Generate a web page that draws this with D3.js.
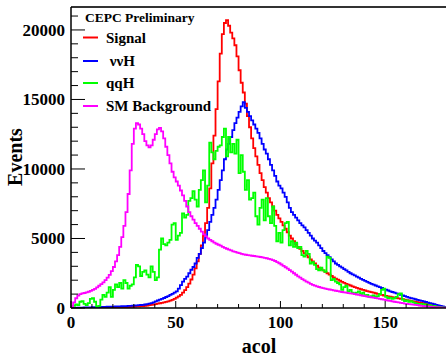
<!DOCTYPE html>
<html>
<head>
<meta charset="utf-8">
<script src="https://cdn.jsdelivr.net/npm/d3@7"></script>
<style>
  body { margin: 0; background: #fff; }
  text { font-family: "Liberation Serif", "DejaVu Serif", serif; font-weight: bold; }
</style>
</head>
<body>
<div id="chart"></div>
<script>
"use strict";

// 1-unit bins of acol from 0 to 180
const signal = [
    0, 0, 0, 0, 0, 0, 0, 0, 0, 0, 0, 0, 0, 0, 0, 0, 5, 5, 10, 10,
    15, 20, 25, 30, 40, 50, 60, 70, 80, 90, 100, 110, 120, 130, 140, 160, 180, 200, 220, 250,
    280, 310, 340, 370, 400, 440, 480, 530, 590, 660, 740, 830, 950, 1100, 1280, 1500, 1750, 2050, 2400, 2850,
    3350, 3900, 4500, 5200, 6100, 7200, 8600, 10400, 12400, 14300, 16300, 18300, 19700, 20500, 20700, 20300, 19800, 19400, 18900, 18100,
    17100, 16200, 15500, 14700, 13800, 13000, 12200, 11500, 10900, 10300, 9700, 9200, 8700, 8300, 7900, 7600, 7300, 7000, 6700, 6450,
    6200, 5950, 5700, 5450, 5200, 5000, 4800, 4600, 4400, 4250, 4100, 3950, 3800, 3650, 3500, 3350, 3200, 3050, 2900, 2800,
    2700, 2600, 2500, 2400, 2300, 2200, 2120, 2040, 1960, 1880, 1810, 1740, 1680, 1620, 1560, 1500, 1450, 1400, 1350, 1300,
    1260, 1220, 1180, 1140, 1100, 1060, 1020, 980, 940, 900, 870, 840, 810, 780, 750, 720, 690, 660, 630, 600,
    570, 540, 510, 480, 450, 420, 390, 360, 330, 300, 270, 240, 210, 180, 150, 120, 90, 60, 40, 20
];

const nunuH = [
    0, 10, 15, 20, 25, 30, 35, 40, 45, 50, 55, 60, 65, 70, 75, 80, 85, 90, 95, 100,
    105, 110, 115, 120, 125, 130, 140, 150, 160, 170, 180, 190, 200, 215, 230, 250, 280, 310, 350, 400,
    470, 540, 600, 660, 720, 790, 860, 940, 1020, 1110, 1200, 1400, 1650, 1900, 2100, 2250, 2500, 2750, 2950, 3200,
    3600, 3900, 4300, 4700, 5100, 5600, 6200, 6700, 7200, 7800, 8500, 9200, 9900, 10700, 11400, 11800, 12300, 12800, 13300, 13700,
    14100, 14500, 14800, 14400, 14100, 13800, 13500, 13200, 12900, 12600, 12200, 11800, 11400, 11100, 10700, 10300, 9900, 9500, 9100, 8800,
    8600, 8300, 8000, 7600, 7200, 6900, 6700, 6500, 6300, 6100, 5950, 5800, 5600, 5400, 5200, 5000, 4850, 4700, 4500, 4300,
    4100, 3950, 3800, 3650, 3500, 3350, 3200, 3100, 3000, 2900, 2800, 2700, 2600, 2500, 2420, 2340, 2260, 2180, 2100, 2020,
    1950, 1880, 1810, 1740, 1680, 1620, 1560, 1500, 1440, 1380, 1320, 1260, 1200, 1150, 1100, 1050, 1000, 950, 900, 850,
    800, 750, 710, 670, 630, 590, 550, 510, 470, 430, 390, 350, 310, 270, 230, 190, 150, 110, 70, 40
];

const qqH = [
    100, 150, 250, 200, 450, 500, 300, 200, 350, 650, 700, 450, 100, 150, 600, 950, 800, 1100, 1500, 800,
    1300, 1700, 1500, 1800, 1400, 2000, 1800, 1400, 1600, 1700, 2200, 3100, 3000, 2300, 2600, 2700, 2400, 2200, 3000, 2600,
    2000, 2200, 4200, 5000, 4600, 4500, 4700, 4900, 6000, 6100, 4900, 5200, 5400, 6800, 6500, 6700, 7700, 7900, 8400, 7800,
    7300, 8500, 9200, 9900, 7600, 8800, 11900, 11200, 10700, 11300, 11600, 11700, 12300, 12900, 10900, 12300, 11200, 11800, 11100, 12100,
    9700, 11000, 9800, 8500, 9200, 7800, 7900, 8300, 6600, 6000, 7200, 7800, 6300, 7900, 6600, 6100, 7300, 5900, 4800, 5400,
    4700, 5600, 6100, 6200, 4500, 4800, 4400, 4700, 4300, 4400, 3800, 3700, 4100, 3900, 3200, 3300, 3100, 2800, 2700, 2900,
    2700, 2600, 3700, 3600, 2000, 2100, 1900, 1800, 1700, 1300, 1500, 1600, 1200, 1300, 1100, 1050, 1100, 1200, 1000, 1100,
    900, 950, 800, 850, 900, 800, 850, 1000, 1300, 1400, 800, 700, 750, 650, 700, 800, 1000, 1050, 600, 500,
    550, 450, 500, 400, 350, 300, 250, 300, 200, 250, 150, 200, 100, 150, 100, 80, 60, 50, 30, 20
];

const smBackground = [
    100, 400, 700, 900, 1000, 1050, 1080, 1120, 1170, 1230, 1300, 1380, 1480, 1600, 1720, 1850, 2000, 2180, 2380, 2650,
    2950, 3350, 3800, 4400, 5100, 5900, 6900, 8200, 9900, 11800, 12900, 13300, 13200, 12900, 12500, 12000, 11700, 11550, 11700, 12100,
    12500, 12850, 12950, 12700, 12200, 11600, 11000, 10400, 9800, 9400, 9100, 8800, 8450, 8100, 7700, 7300, 6900, 6600, 6350, 6100,
    5900, 5700, 5500, 5300, 5150, 5000, 4900, 4800, 4700, 4620, 4550, 4480, 4400, 4330, 4260, 4200, 4140, 4080, 4030, 3980,
    3940, 3900, 3860, 3830, 3800, 3780, 3760, 3740, 3720, 3700, 3670, 3640, 3610, 3580, 3540, 3500, 3440, 3380, 3300, 3220,
    3130, 3030, 2930, 2830, 2720, 2610, 2500, 2390, 2280, 2180, 2080, 1990, 1900, 1820, 1740, 1670, 1610, 1560, 1510, 1470,
    1430, 1390, 1360, 1330, 1300, 1270, 1240, 1210, 1180, 1150, 1120, 1100, 1070, 1050, 1030, 1000, 970, 940, 910, 880,
    850, 820, 800, 770, 740, 710, 690, 660, 630, 600, 570, 540, 510, 480, 450, 420, 400, 370, 350, 320,
    300, 280, 260, 240, 220, 200, 180, 160, 140, 125, 110, 95, 80, 70, 60, 50, 40, 30, 20, 10
];

const xTicks = [0, 50, 100, 150];
const yTicks = [0, 5000, 10000, 15000, 20000];

const legendEntries = [
    { label: "Signal", color: "#ff0000" },
    { label: " \u03bd\u03bdH", color: "#0000ff" },
    { label: "qqH", color: "#00ff00" },
    { label: "SM Background", color: "#ff00ff" }
];

const series = [
    { values: signal, color: "#ff0000" },
    { values: nunuH, color: "#0000ff" },
    { values: qqH, color: "#00ff00" },
    { values: smBackground, color: "#ff00ff" }
];

const W = 446, H = 356;
const margin = { top: 7, left: 71, bottom: 48 };
const plotRight = 448;

const svg = d3.select("#chart").append("svg")
    .attr("width", W)
    .attr("height", H);

const x = d3.scaleLinear().domain([0, 180]).range([margin.left, plotRight]);
const y = d3.scaleLinear().domain([0, 21650]).range([H - margin.bottom, margin.top]);

svg.append("clipPath").attr("id", "frame")
    .append("rect")
    .attr("x", margin.left).attr("y", margin.top)
    .attr("width", plotRight - margin.left)
    .attr("height", y(0) - margin.top);

// histograms, outline starts from the baseline like ROOT "hist"
const histLine = d3.line()
    .x(d => x(d[0]))
    .y(d => y(d[1]))
    .curve(d3.curveStepAfter);

const plot = svg.append("g").attr("clip-path", "url(#frame)");
series.forEach(s => {
    const pts = [[0, 0]].concat(s.values.map((v, i) => [i, v]));
    pts.push([s.values.length, s.values[s.values.length - 1]]);
    plot.append("path")
        .datum(pts)
        .attr("fill", "none")
        .attr("stroke", s.color)
        .attr("stroke-width", 1.8)
        .attr("d", histLine);
});

// frame top
svg.append("line")
    .attr("x1", margin.left).attr("x2", W)
    .attr("y1", margin.top).attr("y2", margin.top)
    .attr("stroke", "#333").attr("stroke-width", 2);

// x axis, ROOT style ticks pointing inward
const xAxis = svg.append("g").attr("transform", "translate(0," + y(0) + ")");
xAxis.append("line")
    .attr("x1", margin.left).attr("x2", W)
    .attr("stroke", "#000").attr("stroke-width", 1.5);
xAxis.selectAll(".minor")
    .data(d3.range(0, 181, 10))
    .join("line")
    .attr("x1", d => x(d)).attr("x2", d => x(d))
    .attr("y1", 0).attr("y2", d => d % 50 === 0 ? -7 : -4)
    .attr("stroke", "#000").attr("stroke-width", 1);
xAxis.selectAll(".lbl")
    .data(xTicks)
    .join("text")
    .attr("x", d => x(d))
    .attr("y", 20)
    .attr("text-anchor", "middle")
    .style("font-size", "17px")
    .text(d => d);

// y axis
const yAxis = svg.append("g").attr("transform", "translate(" + margin.left + ",0)");
yAxis.append("line")
    .attr("y1", margin.top).attr("y2", y(0))
    .attr("stroke", "#000").attr("stroke-width", 1.5);
yAxis.selectAll(".tick")
    .data(d3.range(0, 21001, 1000))
    .join("line")
    .attr("y1", d => y(d)).attr("y2", d => y(d))
    .attr("x1", 0).attr("x2", d => d % 5000 === 0 ? 14 : 7)
    .attr("stroke", "#000").attr("stroke-width", 1);
yAxis.selectAll(".lbl")
    .data(yTicks)
    .join("text")
    .attr("x", -6)
    .attr("y", d => y(d))
    .attr("dy", "0.35em")
    .attr("text-anchor", "end")
    .style("font-size", "17px")
    .text(d => d);

// axis titles
svg.append("text")
    .attr("x", 259).attr("y", 353)
    .attr("text-anchor", "middle")
    .style("font-size", "20px")
    .text("acol");

svg.append("text")
    .attr("transform", "translate(22,157) rotate(-90)")
    .attr("text-anchor", "middle")
    .style("font-size", "20px")
    .text("Events");

// legend
const legend = svg.append("g");
legend.append("text")
    .attr("x", 85).attr("y", 22)
    .style("font-size", "13.5px")
    .text("CEPC Preliminary");

const rowY = [37.5, 61, 83, 106];
legendEntries.forEach((e, i) => {
    legend.append("line")
        .attr("x1", 83).attr("x2", 98)
        .attr("y1", rowY[i]).attr("y2", rowY[i])
        .attr("stroke", e.color).attr("stroke-width", 2);
    legend.append("text")
        .attr("x", 106).attr("y", rowY[i] + 5)
        .style("font-size", "15px")
        .style("white-space", "pre")
        .text(e.label);
});
</script>
</body>
</html>
